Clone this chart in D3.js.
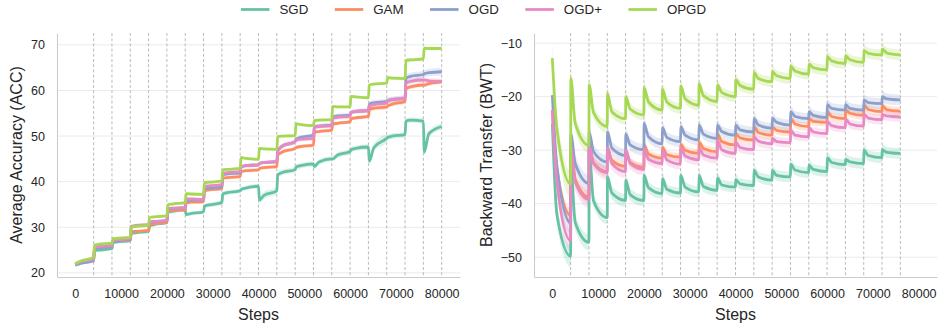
<!DOCTYPE html>
<html>
<head>
<meta charset="utf-8">
<script src="https://cdn.jsdelivr.net/npm/d3@7"></script>
<style>
  body { margin: 0; background: #fff; }
  svg { font-family: "Liberation Sans", Arial, sans-serif; }
</style>
</head>
<body>
<svg id="chart" width="940" height="324"></svg>
<script>
// methods, in legend / drawing order
const methods = ['SGD', 'GAM', 'OGD', 'OGD+', 'OPGD'];
const colors = ['#66c2a5', '#fc8d62', '#8da0cb', '#e78ac3', '#a6d854'];

const xTicks = [0, 10000, 20000, 30000, 40000, 50000, 60000, 70000, 80000];
const accTicks = [20, 30, 40, 50, 60, 70];
const bwtTicks = [-50, -40, -30, -20, -10];

const taskLen = 4000;
const accTasks = 20;
const bwtTasks = 19;
// where each value is read inside a task (steps after the task boundary)
const accOffsets = [200, 1200, 4000];
const bwtOffsets = [40, 1000, 4000];

// ---- Average accuracy, 3 readings per task ----
const accSGD = [
  21.8, 22.3, 22.8,  24.9, 25.0, 25.3,  26.6, 26.8, 27.1,  28.6, 28.8, 29.1,
  30.3, 30.6, 31.0,  33.3, 33.5, 33.8,  32.8, 33.0, 33.4,  34.6, 34.9, 35.4,
  37.3, 37.6, 38.0,  38.3, 38.6, 39.0,  36.0, 37.0, 38.0,  41.5, 42.0, 42.6,
  43.2, 43.5, 43.9,  43.3, 44.3, 45.0,  45.0, 45.8, 46.6,  47.0, 47.3, 47.6,
  44.5, 47.5, 49.5,  49.7, 50.0, 50.3,  53.3, 53.5, 53.3,  46.5, 50.5, 52.1
];
const accGAM = [
  21.9, 22.5, 23.0,  25.7, 25.8, 26.0,  27.0, 27.1, 27.2,  29.0, 29.1, 29.3,
  30.6, 30.8, 31.0,  33.6, 33.7, 33.8,  35.4, 35.5, 35.6,  38.0, 38.2, 38.5,
  40.7, 40.9, 41.1,  42.2, 42.4, 42.6,  42.9, 43.1, 43.3,  45.8, 46.5, 47.3,
  47.5, 47.7, 48.0,  50.8, 51.0, 51.3,  52.6, 52.8, 53.1,  53.8, 54.0, 54.3,
  55.8, 56.1, 56.4,  56.6, 57.0, 57.6,  60.3, 60.8, 61.2,  61.2, 61.5, 61.9
];
const accOGD = [
  21.7, 22.1, 22.6,  25.3, 25.5, 25.7,  27.0, 27.1, 27.3,  30.1, 30.3, 30.5,
  31.0, 31.2, 31.4,  34.0, 34.1, 34.3,  35.8, 35.9, 36.0,  38.4, 38.6, 38.8,
  41.5, 41.7, 41.9,  43.3, 43.5, 43.7,  44.0, 44.2, 44.4,  46.8, 47.8, 48.8,
  49.3, 49.7, 50.2,  52.0, 52.2, 52.4,  54.2, 54.4, 54.6,  55.2, 55.4, 55.6,
  57.0, 57.3, 57.6,  57.8, 58.0, 58.3,  62.7, 63.1, 63.5,  63.7, 63.9, 64.1
];
const accOGDPlus = [
  21.9, 22.5, 23.0,  25.7, 25.8, 26.0,  27.1, 27.3, 27.5,  30.2, 30.4, 30.6,
  31.2, 31.3, 31.5,  34.1, 34.2, 34.3,  36.2, 36.2, 36.1,  38.9, 39.1, 39.3,
  41.8, 42.0, 42.2,  43.3, 43.5, 43.7,  44.0, 44.2, 44.4,  46.6, 47.8, 48.8,
  49.1, 49.3, 49.5,  51.9, 52.1, 52.3,  53.9, 54.1, 54.3,  55.2, 55.4, 55.6,
  56.6, 56.9, 57.2,  57.7, 58.0, 58.3,  61.6, 62.0, 62.3,  62.3, 62.1, 62.0
];
const accOPGD = [
  22.0, 22.6, 23.4,  26.1, 26.3, 26.5,  27.5, 27.6, 27.8,  30.0, 30.2, 30.4,
  32.1, 32.3, 32.5,  34.9, 35.1, 35.4,  37.4, 37.3, 37.2,  39.8, 39.9, 40.1,
  42.6, 42.7, 42.9,  45.3, 45.1, 44.9,  47.3, 47.2, 47.1,  49.9, 50.0, 50.1,
  52.7, 52.5, 52.3,  53.4, 53.5, 53.6,  56.5, 56.4, 56.4,  58.7, 58.6, 58.4,
  61.2, 61.4, 61.6,  62.8, 62.7, 62.6,  66.6, 66.7, 66.9,  69.3, 69.2, 69.2
];
// half width of the shaded band, one per task
const accSpreadSGD    = [0.3, 0.3, 0.3, 0.3, 0.3, 0.4, 0.4, 0.5, 0.5, 0.5, 0.8, 0.6, 0.6, 0.6, 0.6, 0.6, 0.8, 0.6, 0.6, 0.7];
const accSpreadGAM    = [0.3, 0.3, 0.3, 0.3, 0.3, 0.3, 0.3, 0.3, 0.4, 0.4, 0.4, 0.4, 0.4, 0.4, 0.4, 0.4, 0.5, 0.5, 0.5, 0.5];
const accSpreadOGD    = [0.3, 0.3, 0.3, 0.3, 0.3, 0.3, 0.3, 0.4, 0.4, 0.4, 0.4, 0.5, 0.5, 0.5, 0.5, 0.5, 0.6, 0.6, 0.8, 0.8];
const accSpreadOGDPlus= [0.3, 0.3, 0.3, 0.3, 0.3, 0.3, 0.3, 0.4, 0.4, 0.4, 0.4, 0.5, 0.5, 0.5, 0.5, 0.5, 0.5, 0.6, 0.6, 0.6];
const accSpreadOPGD   = [0.3, 0.3, 0.3, 0.3, 0.3, 0.3, 0.3, 0.3, 0.3, 0.3, 0.3, 0.3, 0.3, 0.3, 0.3, 0.3, 0.3, 0.4, 0.4, 0.4];

// ---- Backward transfer, 3 readings per task (peak, early, end) ----
const bwtSGD = [
  -25.0, -42.0, -49.8,  -33.0, -43.5, -47.2,  -30.0, -39.5, -42.6,  -35.0, -38.0, -39.4,
  -35.6, -38.3, -39.4,  -34.7, -37.0, -38.1,  -35.3, -37.3, -38.0,  -34.7, -36.9, -37.8,
  -34.7, -36.8, -37.5,  -35.2, -36.5, -36.9,  -35.5, -36.3, -36.6,  -33.8, -35.0, -35.6,
  -33.8, -34.7, -35.0,  -32.6, -33.7, -34.2,  -32.8, -33.6, -34.0,  -31.4, -32.3, -32.7,
  -31.7, -32.2, -32.5,  -30.0, -31.0, -31.4,  -29.9, -30.4, -30.6
];
const bwtGAM = [
  -22.5, -33.5, -42.2,  -28.0, -35.5, -38.8,  -29.3, -32.3, -34.0,  -29.5, -31.9, -33.0,
  -30.0, -32.3, -33.2,  -29.0, -30.7, -31.5,  -29.5, -30.8, -31.3,  -28.9, -30.0, -30.6,
  -28.5, -29.7, -30.3,  -26.9, -28.4, -29.0,  -26.9, -27.7, -28.1,  -25.6, -26.7, -27.2,
  -25.7, -26.3, -26.6,  -24.1, -25.1, -25.6,  -24.1, -24.6, -24.8,  -22.8, -23.7, -24.1,
  -22.5, -23.1, -23.5,  -21.6, -22.4, -22.8,  -21.7, -22.4, -22.7
];
const bwtOGD = [
  -19.7, -33.0, -43.6,  -27.0, -32.5, -36.2,  -26.6, -30.3, -32.2,  -26.6, -29.6, -31.0,
  -27.0, -29.0, -29.9,  -25.0, -27.5, -28.8,  -25.8, -27.6, -28.4,  -25.6, -27.2, -28.1,
  -25.3, -27.0, -27.8,  -25.3, -26.5, -27.2,  -25.3, -26.2, -26.6,  -24.1, -25.3, -25.9,
  -24.0, -24.8, -25.3,  -22.8, -23.7, -24.1,  -22.8, -23.5, -23.9,  -21.5, -22.2, -22.5,
  -21.5, -22.2, -22.5,  -20.6, -21.1, -21.3,  -20.0, -20.4, -20.6
];
const bwtOGDPlus = [
  -22.5, -36.0, -46.9,  -29.5, -36.0, -39.2,  -29.5, -32.5, -34.2,  -29.5, -32.5, -34.0,
  -30.0, -32.5, -33.6,  -29.8, -31.7, -32.5,  -30.0, -31.8, -32.6,  -29.5, -31.1, -31.8,
  -29.6, -30.9, -31.5,  -28.2, -29.9, -30.6,  -28.5, -29.5, -29.9,  -27.5, -28.3, -28.8,
  -27.8, -28.4, -28.6,  -26.3, -27.2, -27.5,  -25.8, -26.6, -26.9,  -24.6, -25.4, -25.8,
  -24.2, -25.1, -25.5,  -23.3, -24.0, -24.3,  -23.3, -23.6, -23.8
];
const bwtOPGD = [
  -12.8, -26.0, -36.3,  -16.6, -25.0, -29.1,  -17.8, -23.0, -25.6,  -19.4, -22.8, -24.1,
  -20.0, -22.3, -23.4,  -18.3, -21.0, -22.5,  -18.6, -21.0, -22.2,  -18.0, -20.4, -21.6,
  -17.6, -19.8, -20.9,  -17.8, -19.2, -20.0,  -16.8, -17.9, -18.6,  -15.5, -16.6, -17.2,
  -15.3, -16.1, -16.6,  -14.3, -15.2, -15.8,  -13.9, -14.6, -15.0,  -12.5, -13.3, -13.8,
  -12.4, -13.1, -13.6,  -11.4, -11.9, -12.2,  -11.1, -11.8, -12.2
];
const bwtSpreadSGD     = [2.0, 1.5, 1.2, 1.2, 1.1, 1.0, 1.0, 1.0, 1.0, 1.0, 1.0, 1.0, 1.0, 1.0, 1.0, 1.0, 1.0, 1.0, 1.0];
const bwtSpreadGAM     = [1.5, 1.2, 1.0, 0.9, 0.8, 0.8, 0.8, 0.8, 0.8, 0.8, 0.8, 0.8, 0.8, 0.8, 0.8, 0.8, 0.8, 0.8, 0.8];
const bwtSpreadOGD     = [2.0, 1.6, 1.3, 1.2, 1.1, 1.0, 1.0, 1.0, 1.0, 1.0, 1.0, 1.0, 1.0, 1.0, 1.0, 1.0, 1.0, 1.0, 1.0];
const bwtSpreadOGDPlus = [2.0, 1.6, 1.3, 1.2, 1.1, 1.0, 1.0, 1.0, 1.0, 1.0, 1.0, 1.0, 0.9, 0.9, 0.9, 0.9, 0.9, 0.9, 0.9];
const bwtSpreadOPGD    = [2.5, 1.5, 1.2, 1.1, 1.0, 1.0, 1.0, 1.0, 1.0, 1.0, 1.0, 1.0, 1.0, 1.0, 1.0, 1.0, 1.0, 1.0, 1.0];

const textColor = '#262626';
const svg = d3.select('#chart');
const x0 = d3.scaleLinear().domain([-4000, 84000]);

function knotSteps(nTasks, offsets) {
  const out = [];
  for (let t = 0; t < nTasks; t++) {
    offsets.forEach((o, i) => out.push(t * taskLen + (t === 0 && i === 0 ? 0 : o)));
  }
  return out;
}

const panels = [
  {
    id: 'acc', left: 57, right: 460, top: 33, bottom: 277,
    yDomain: [19.1, 72.6], yTicks: accTicks, tasks: accTasks, offsets: accOffsets,
    label: 'Average Accuracy (ACC)', labelX: 21.5,
    series: [accSGD, accGAM, accOGD, accOGDPlus, accOPGD],
    spreads: [accSpreadSGD, accSpreadGAM, accSpreadOGD, accSpreadOGDPlus, accSpreadOPGD],
    fmt: d => String(d)
  },
  {
    id: 'bwt', left: 534, right: 937, top: 33, bottom: 277,
    yDomain: [-53.7, -8.1], yTicks: bwtTicks, tasks: bwtTasks, offsets: bwtOffsets,
    label: 'Backward Transfer (BWT)', labelX: 492,
    series: [bwtSGD, bwtGAM, bwtOGD, bwtOGDPlus, bwtOPGD],
    spreads: [bwtSpreadSGD, bwtSpreadGAM, bwtSpreadOGD, bwtSpreadOGDPlus, bwtSpreadOPGD],
    fmt: d => String(d).replace('-', '\u2212')
  }
];

panels.forEach(p => {
  const x = x0.copy().range([p.left, p.right]);
  const y = d3.scaleLinear().domain(p.yDomain).range([p.bottom, p.top]);
  const g = svg.append('g');

  // horizontal grid
  g.append('g').selectAll('line').data(p.yTicks).join('line')
    .attr('x1', p.left).attr('x2', p.right)
    .attr('y1', d => y(d)).attr('y2', d => y(d))
    .attr('stroke', '#ebebeb').attr('stroke-width', 1);

  // task boundaries
  const bounds = d3.range(1, p.tasks + 1).map(k => k * taskLen);
  g.append('g').selectAll('line').data(bounds).join('line')
    .attr('x1', d => x(d)).attr('x2', d => x(d))
    .attr('y1', p.top).attr('y2', p.bottom)
    .attr('stroke', '#b3b3b3').attr('stroke-width', 0.9)
    .attr('stroke-dasharray', '3,2.2');

  svg.append('clipPath').attr('id', 'clip-' + p.id)
    .append('rect').attr('x', p.left).attr('y', p.top)
    .attr('width', p.right - p.left).attr('height', p.bottom - p.top);

  const steps = knotSteps(p.tasks, p.offsets);
  const per = p.offsets.length;
  const plot = g.append('g').attr('clip-path', `url(#clip-${p.id})`);

  const area = d3.area().curve(d3.curveMonotoneX)
    .x(d => x(d.step)).y0(d => y(d.v - d.s)).y1(d => y(d.v + d.s));
  const line = d3.line().curve(d3.curveMonotoneX)
    .x(d => x(d.step)).y(d => y(d.v));

  const data = p.series.map((vals, si) => vals.map((v, i) => ({
    step: steps[i], v, s: p.spreads[si][Math.floor(i / per)]
  })));

  data.forEach((pts, si) => {
    plot.append('path').datum(pts).attr('d', area)
      .attr('fill', colors[si]).attr('fill-opacity', 0.22).attr('stroke', 'none');
  });
  data.forEach((pts, si) => {
    plot.append('path').datum(pts).attr('d', line)
      .attr('fill', 'none').attr('stroke', colors[si])
      .attr('stroke-width', 2.8).attr('stroke-linejoin', 'round');
  });

  // axes
  const xAxis = g.append('g').attr('transform', `translate(0,${p.bottom})`)
    .call(d3.axisBottom(x).tickValues(xTicks).tickSize(0).tickPadding(12).tickFormat(d => String(d)));
  const yAxis = g.append('g').attr('transform', `translate(${p.left},0)`)
    .call(d3.axisLeft(y).tickValues(p.yTicks).tickSize(0).tickPadding(12).tickFormat(p.fmt));
  [xAxis, yAxis].forEach(a => {
    a.select('.domain').attr('stroke', '#cccccc').attr('stroke-width', 1.1);
    a.selectAll('text').attr('fill', textColor).style('font-size', '12.5px')
      .style('font-family', '"Liberation Sans", Arial, sans-serif');
  });

  g.append('text')
    .attr('x', (p.left + p.right) / 2).attr('y', 319.8)
    .attr('text-anchor', 'middle').attr('fill', textColor)
    .style('font-size', '16px').text('Steps');

  g.append('text')
    .attr('transform', `translate(${p.labelX},${(p.top + p.bottom) / 2}) rotate(-90)`)
    .attr('text-anchor', 'middle').attr('fill', textColor)
    .style('font-size', '16px').text(p.label);
});

// legend
const legend = svg.append('g');
const items = legend.selectAll('g').data(methods).join('g');
items.append('line')
  .attr('x1', 0).attr('x2', 28.5).attr('y1', 9.5).attr('y2', 9.5)
  .attr('stroke', (d, i) => colors[i]).attr('stroke-width', 2.8);
items.append('text')
  .attr('x', 38.5).attr('y', 14.2)
  .attr('fill', textColor).style('font-size', '13.3px')
  .text(d => d);
let cursor = 0;
const positions = [];
items.each(function () {
  positions.push(cursor);
  const w = d3.select(this).select('text').node().getComputedTextLength();
  cursor += 38.5 + w + 26.5;
});
const total = cursor - 26.5;
const start = 473.5 - total / 2;
items.attr('transform', (d, i) => `translate(${start + positions[i]},0)`);
</script>
</body>
</html>
